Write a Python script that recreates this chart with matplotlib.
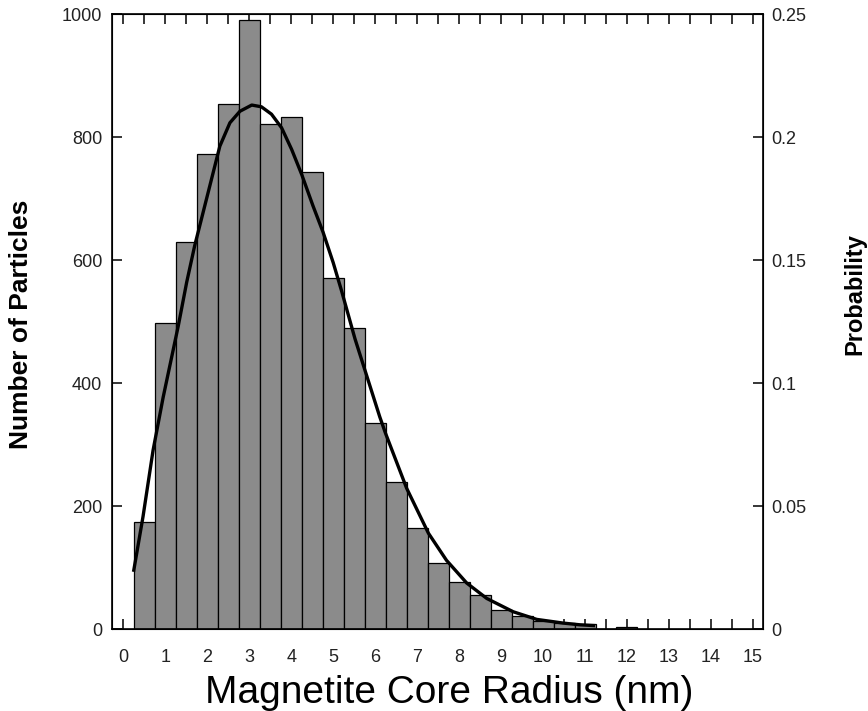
import matplotlib
matplotlib.use("Agg")
import matplotlib.pyplot as plt
import numpy as np
from matplotlib.ticker import MultipleLocator, FormatStrFormatter

plt.rcParams['font.family'] = ['Liberation Sans', 'DejaVu Sans']

# histogram: bin centres (nm) and counts
bin_centers = [0.5, 1.0, 1.5, 2.0, 2.5, 3.0, 3.5, 4.0, 4.5, 5.0, 5.5, 6.0,
               6.5, 7.0, 7.5, 8.0, 8.5, 9.0, 9.5, 10.0, 10.5, 11.0, 11.5, 12.0]
counts = [174, 497, 629, 773, 854, 991, 822, 832, 743, 571, 489, 336,
          239, 165, 107, 77, 55, 31, 21, 13, 10, 8, 0, 3]
bin_width = 0.5

# fitted distribution (probability axis)
fit_x = [0.25, 0.47, 0.71, 0.95, 1.31, 1.51, 1.70, 1.90, 2.10, 2.30, 2.54,
         2.78, 3.06, 3.29, 3.53, 3.77, 4.01, 4.25, 4.52, 4.76, 5.00, 5.20,
         5.52, 6.11, 6.25, 6.75, 7.27, 7.70, 8.18, 8.66, 9.29, 9.85,
         10.48, 10.88, 11.20]
fit_p = [0.0240, 0.0458, 0.0728, 0.0943, 0.1233, 0.1410, 0.1558, 0.1693,
         0.1828, 0.1963, 0.2058, 0.2105, 0.2130, 0.2123, 0.2093, 0.2038,
         0.1950, 0.1848, 0.1720, 0.1613, 0.1490, 0.1375, 0.1180, 0.0863,
         0.0795, 0.0573, 0.0390, 0.0280, 0.0188, 0.0125, 0.0071,
         0.0040, 0.0025, 0.0018, 0.0015]

fig = plt.figure(figsize=(8.68, 7.11), dpi=100)
ax = fig.add_axes([0.129, 0.115, 0.7505, 0.8653])

ax.bar(bin_centers, counts, width=bin_width, color='#8b8b8b',
       edgecolor='black', linewidth=0.9, zorder=2)

ax.set_xlim(-0.27, 15.25)
ax.set_ylim(0, 1000)
ax.xaxis.set_major_locator(MultipleLocator(1))
ax.xaxis.set_minor_locator(MultipleLocator(0.5))
ax.yaxis.set_major_locator(MultipleLocator(200))
ax.tick_params(axis='x', which='both', direction='in', length=7, width=1.1,
               top=True, labelsize=13, pad=14, labelcolor='#222222')
ax.tick_params(axis='y', which='major', direction='in', length=7, width=1.1,
               labelsize=13, pad=7, labelcolor='#222222')
for s in ax.spines.values():
    s.set_linewidth(1.2)

ax.set_xlabel('Magnetite Core Radius (nm)', fontsize=28)
ax.xaxis.set_label_coords(0.518, -0.074)
ax.set_ylabel('Number of Particles', fontsize=19, fontweight='bold')
ax.yaxis.set_label_coords(-0.121, 0.495)

ax2 = ax.twinx()
ax2.plot(fit_x, fit_p, color='black', linewidth=2.4, zorder=3,
         solid_joinstyle='round')
ax2.set_ylim(0, 0.25)
ax2.yaxis.set_major_locator(MultipleLocator(0.05))
ax2.yaxis.set_major_formatter(FormatStrFormatter('%g'))
ax2.tick_params(axis='y', direction='in', length=7, width=1.1,
                labelsize=13, pad=6, labelcolor='#222222')
ax2.set_ylabel('Probability', fontsize=17, fontweight='bold')
ax2.yaxis.set_label_coords(1.122, 0.545)

fig.savefig('out.png', dpi=100)
